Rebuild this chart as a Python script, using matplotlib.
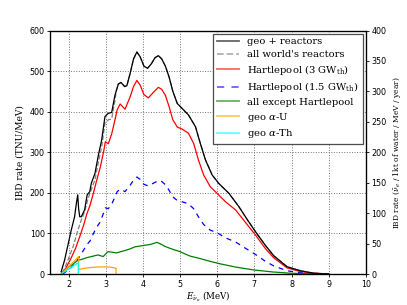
import matplotlib
matplotlib.use("Agg")
import matplotlib.pyplot as plt
import numpy as np

plt.rcParams['mathtext.fontset'] = 'dejavuserif'

# ---------------- data ----------------
E_black = [1.79, 1.88, 1.97, 2.06, 2.15, 2.20, 2.235, 2.26, 2.29, 2.33, 2.42, 2.49, 2.56, 2.60,
           2.70, 2.79, 2.88, 2.97, 3.06, 3.15, 3.24, 3.33, 3.40, 3.50, 3.56, 3.65, 3.74, 3.83,
           3.92, 4.02, 4.12, 4.22, 4.32, 4.41, 4.50, 4.60, 4.70, 4.80, 4.92, 5.05, 5.22, 5.41,
           5.54, 5.68, 5.86, 6.04, 6.31, 6.58, 6.80, 7.03, 7.30, 7.52, 7.88, 8.24, 8.60, 9.00]
geo_reactors = [6, 34, 71, 108, 141, 175, 195, 160, 141, 141, 158, 195, 203, 223,
                248, 292, 330, 388, 396, 398, 441, 468, 472, 462, 464, 495, 530, 547,
                535, 512, 507, 518, 533, 538, 530, 512, 485, 450, 420, 408, 392, 363,
                322, 281, 244, 223, 199, 166, 135, 104, 70, 45, 18, 8, 2, 0]

E_world = [1.83, 1.97, 2.11, 2.24, 2.33, 2.42, 2.51, 2.60, 2.70, 2.79, 2.88, 2.97, 3.06, 3.15,
           3.24, 3.27, 3.33, 3.40, 3.50, 3.56, 3.65, 3.74, 3.83, 3.92, 4.02, 4.12, 4.22, 4.32,
           4.41, 4.50, 4.60, 4.70, 4.80, 4.92, 5.05, 5.22, 5.41, 5.54, 5.68, 5.86, 6.04, 6.31,
           6.58, 6.80, 7.03, 7.30, 7.52, 7.88, 8.24, 8.60, 9.00]
world_reactors = [3, 34, 67, 108, 133, 153, 185, 208, 232, 275, 312, 372, 380, 382,
                  428, 450, 468, 472, 462, 464, 495, 530, 547, 535, 512, 507, 518, 533,
                  538, 530, 512, 485, 450, 420, 408, 392, 363, 322, 281, 244, 223, 199,
                  166, 135, 104, 70, 45, 18, 8, 2, 0]

E_hart = [1.82, 1.89, 2.05, 2.18, 2.30, 2.40, 2.48, 2.57, 2.66, 2.75, 2.84, 2.93, 2.98, 3.06,
          3.15, 3.24, 3.30, 3.38, 3.51, 3.65, 3.74, 3.83, 3.92, 4.02, 4.14, 4.28, 4.41, 4.50,
          4.60, 4.70, 4.80, 4.92, 5.05, 5.22, 5.36, 5.49, 5.63, 5.81, 5.99, 6.22, 6.49, 6.75,
          7.03, 7.30, 7.52, 7.88, 8.24, 8.60, 9.00]
hart_3gw = [0, 10, 38, 64, 95, 122, 148, 170, 200, 232, 262, 300, 326, 321,
            345, 380, 405, 419, 406, 437, 462, 477, 465, 442, 434, 448, 460, 455,
            440, 412, 380, 362, 357, 347, 322, 281, 244, 215, 199, 178, 158, 128,
            96, 62, 40, 15, 6, 2, 0]
hart_15gw = [0, 4, 15, 28, 45, 60, 72, 82, 100, 116, 128, 150, 163, 161,
             172, 190, 203, 209, 203, 219, 231, 239, 233, 221, 217, 224, 230, 228,
             220, 206, 190, 181, 178, 173, 161, 141, 122, 108, 102, 89, 79, 64,
             48, 31, 20, 8, 3, 1, 0]

E_green = [1.79, 1.97, 2.07, 2.24, 2.34, 2.51, 2.65, 2.78, 2.92, 3.05, 3.15, 3.28, 3.51, 3.65,
           3.78, 3.92, 4.05, 4.20, 4.37, 4.47, 4.59, 4.73, 4.86, 5.00, 5.14, 5.27, 5.54, 5.81,
           6.08, 6.50, 6.98, 7.50, 7.97, 8.50, 9.00]
all_except = [2, 16, 22, 34, 36, 41, 44, 47, 43, 55, 54, 52, 58, 62,
              67, 69, 71, 73, 78, 74, 68, 63, 59, 55, 49, 44, 38, 31,
              25, 17, 10, 5, 2, 0.5, 0]

E_U = [1.79, 1.90, 2.00, 2.10, 2.20, 2.26, 2.26, 2.40, 2.60, 2.80, 3.00, 3.15, 3.27, 3.27]
geo_U = [0, 10, 19, 28, 37, 43, 11, 14, 16, 17.5, 17.5, 16.5, 14, 0]

E_Th = [1.79, 1.90, 2.00, 2.10, 2.20, 2.25, 2.25]
geo_Th = [0, 7, 13, 19, 25, 28, 0]

# ---------------- figure ----------------
fig = plt.figure(figsize=(4.07, 3.05), dpi=100)
ax = fig.add_axes([0.124, 0.1016, 0.7745, 0.7984])

lw = 0.9
ax.plot(E_black, geo_reactors, color='k', lw=lw, label='geo + reactors', zorder=3)
ax.plot(E_world, world_reactors, color='0.5', lw=lw, ls='--', label="all world's reactors", zorder=2)
ax.plot(E_hart, hart_3gw, color='#ff0000', lw=lw, label=r'Hartlepool (3 GW$_{\rm th}$)', zorder=2)
ax.plot(E_hart, hart_15gw, color='#0000ff', lw=lw, ls=(0, (4, 4)), label=r'Hartlepool (1.5 GW$_{\rm th}$)', zorder=2)
ax.plot(E_green, all_except, color='#008000', lw=lw, label='all except Hartlepool', zorder=2)
ax.plot(E_U, geo_U, color='#ffa500', lw=lw, label=r'geo $\alpha$-U', zorder=2)
ax.plot(E_Th, geo_Th, color='#00ffff', lw=lw, label=r'geo $\alpha$-Th', zorder=2)

ax.set_xlim(1.5, 10)
ax.set_ylim(0, 600)
ax.set_xticks(range(2, 11))
ax.set_yticks(range(0, 601, 100))
ax.grid(True, color='0.45', ls=':', lw=0.7)
ax.tick_params(labelsize=5.8, direction='out', length=2.5, width=0.6, pad=1.5)
for s in ax.spines.values():
    s.set_linewidth(0.9)

ax.set_xlabel(r'$E_{\bar{\nu}_e}$ (MeV)', family='DejaVu Serif', fontsize=6.3, labelpad=0.5)
ax.set_ylabel('IBD rate (TNU/MeV)', family='DejaVu Serif', fontsize=6.5, labelpad=4)

ax2 = ax.twinx()
ax2.set_ylim(0, 400)
ax2.set_yticks(range(0, 401, 50))
ax2.tick_params(labelsize=5.8, direction='out', length=2.5, width=0.6, pad=1.5)
ax2.set_ylabel(r'IBD rate ($\bar{\nu}_e$ / 1kt of water / MeV / year)', family='DejaVu Serif',
               fontsize=5.4, labelpad=3)

leg = ax.legend(loc='upper right', prop={'family': 'DejaVu Serif', 'size': 7.2},
                fancybox=False, framealpha=1, edgecolor='0.3', handlelength=2.2,
                labelspacing=0.36, borderaxespad=0.3, handletextpad=0.8, borderpad=0.4)
leg.get_frame().set_linewidth(0.9)
leg.set_zorder(5)
for h in leg.get_lines():
    h.set_alpha(0.6)
    h.set_linewidth(1.3)

fig.savefig('out.png', dpi=100)
